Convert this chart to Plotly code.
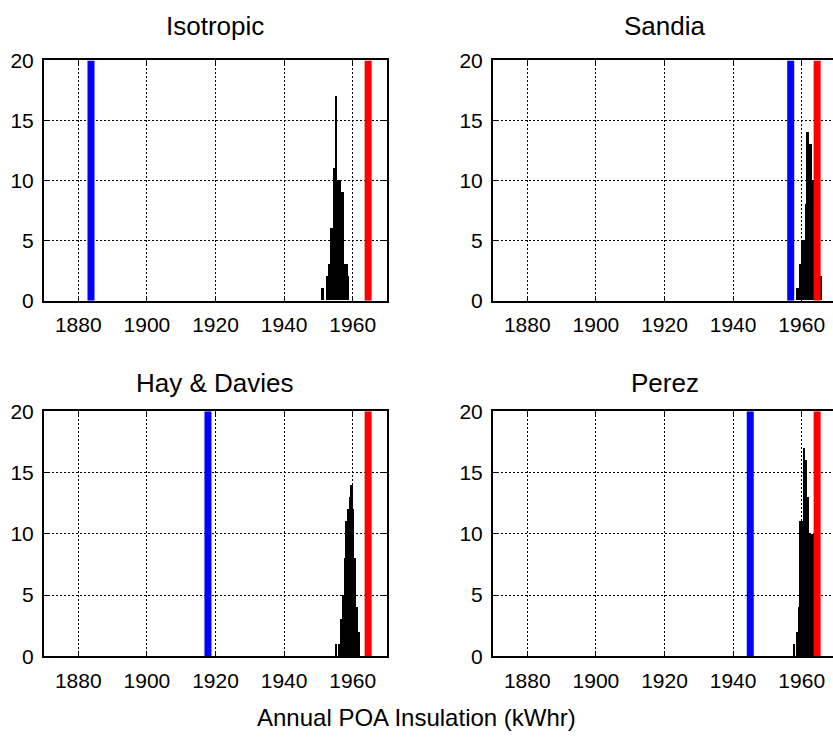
import plotly.graph_objects as go

# Histogram bins (bin width 0.5 kWhr) of simulated annual POA insolation per model
bin_width = 0.5

iso_centers = [1951.25, 1952.75, 1953.25, 1953.75, 1954.25, 1954.75, 1955.25,
               1955.75, 1956.25, 1956.75, 1957.25, 1957.75, 1958.25, 1958.75]
iso_counts = [1, 2, 3, 6, 6, 11, 17, 10, 10, 9, 9, 3, 3, 2]

san_centers = [1958.75, 1959.25, 1959.75, 1960.25, 1960.75, 1961.25, 1961.75,
               1962.25, 1962.75, 1963.25, 1963.75, 1964.25, 1964.75, 1965.25, 1965.75]
san_counts = [1, 1, 3, 5, 5, 8, 14, 13, 13, 10, 9, 6, 4, 2, 2]

hay_centers = [1955.25, 1956.25, 1956.75, 1957.25, 1957.75, 1958.25, 1958.75,
               1959.25, 1959.75, 1960.25, 1960.75, 1961.25, 1961.75]
hay_counts = [1, 1, 3, 5, 8, 11, 12, 13, 14, 12, 8, 4, 2]

per_centers = [1957.75, 1958.75, 1959.25, 1959.75, 1960.25, 1960.75, 1961.25,
               1961.75, 1962.25, 1962.75, 1963.25, 1963.75, 1964.25]
per_counts = [1, 2, 4, 11, 11, 17, 16, 13, 10, 10, 10, 6, 3]

# Deterministic model estimate (blue) and measured value (red)
model_values = [1883.7, 1956.8, 1917.8, 1945.0]
measured_value = 1964.5

panel_titles = ["Isotropic", "Sandia", "Hay & Davies", "Perez"]
x_ticks = [1880, 1900, 1920, 1940, 1960]
y_ticks = [0, 5, 10, 15, 20]

W, H = 833, 742
FONT = "Liberation Sans, Arial, sans-serif"

# axis rectangles in pixels: (left, right) and (top, bottom)
left_px = (44, 387)
right_px = (493, 833)
top_px = (50, 298)
bot_px = (412, 665)
full_w = 343

panels = [
    (iso_centers, iso_counts, left_px, top_px, [1870, 1970], True, 14),
    (san_centers, san_counts, right_px, top_px, [1870, 1970 - 3 / 3.43], False, 14),
    (hay_centers, hay_counts, left_px, bot_px, [1870, 1970], True, 383),
    (per_centers, per_counts, right_px, bot_px, [1870, 1970 - 3 / 3.43], False, 383),
]

fig = go.Figure()
annotations = []

for i, (cx, cnt, xp, yp, xr, full_box, title_y) in enumerate(panels):
    n = i + 1
    xa = "x" if n == 1 else f"x{n}"
    ya = "y" if n == 1 else f"y{n}"
    fig.add_trace(go.Bar(x=cx, y=cnt, width=bin_width,
                         marker=dict(color="black", line=dict(width=0)),
                         xaxis=xa, yaxis=ya, showlegend=False))
    fig.add_trace(go.Scatter(x=[model_values[i]] * 2, y=[0, 20], mode="lines",
                             line=dict(color="#0000ff", width=7), xaxis=xa, yaxis=ya,
                             showlegend=False))
    fig.add_trace(go.Scatter(x=[measured_value] * 2, y=[0, 20], mode="lines",
                             line=dict(color="#ff0000", width=7), xaxis=xa, yaxis=ya,
                             showlegend=False))

    xdom = [xp[0] / W, xp[1] / W]
    ydom = [1 - yp[1] / H, 1 - yp[0] / H]
    axis_common = dict(showline=True, linecolor="black", linewidth=2,
                       showgrid=True, gridcolor="black", gridwidth=1, griddash="2px,2px",
                       ticks="inside", ticklen=5, tickcolor="black", tickwidth=1,
                       zeroline=False, tickfont=dict(family=FONT, size=21, color="black"))
    fig.layout["xaxis" if n == 1 else f"xaxis{n}"] = dict(
        domain=xdom, range=xr, anchor=ya, tickvals=x_ticks,
        mirror="ticks", ticklabelstandoff=4, **axis_common)
    fig.layout["yaxis" if n == 1 else f"yaxis{n}"] = dict(
        domain=ydom, range=[0, 20], anchor=xa, tickvals=y_ticks,
        mirror="ticks" if full_box else False, ticklabelstandoff=4, **axis_common)

    annotations.append(dict(text=panel_titles[i], xref="paper", yref="paper",
                            x=(xp[0] + full_w / 2) / W, y=1 - title_y / H,
                            xanchor="center", yanchor="middle", showarrow=False,
                            font=dict(family=FONT, size=26, color="black")))

annotations.append(dict(text="Annual POA Insulation (kWhr)", xref="paper", yref="paper",
                        x=0.5, y=1 - 728 / H, xanchor="center", yanchor="middle",
                        showarrow=False, font=dict(family=FONT, size=24, color="black")))

fig.update_layout(width=W, height=H, margin=dict(l=0, r=0, t=0, b=0),
                  paper_bgcolor="white", plot_bgcolor="white", bargap=0,
                  annotations=annotations, showlegend=False)

fig.write_html("out.html")
